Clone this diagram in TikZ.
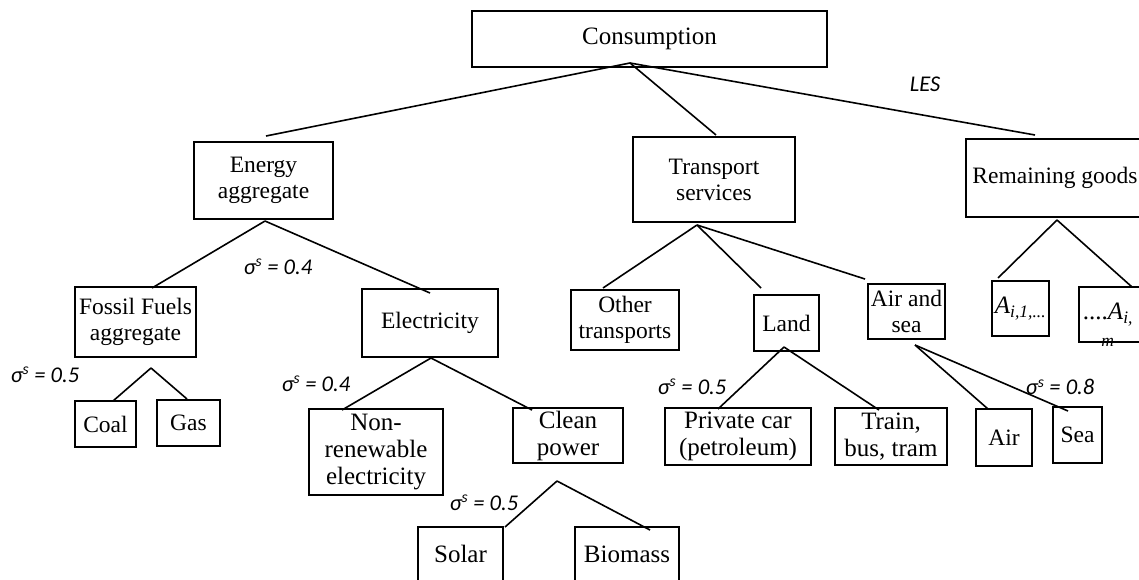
\documentclass[tikz,border=0pt]{standalone}
\usepackage{fontspec}
\setmainfont{Liberation Serif}
\newfontfamily\sigfont{Carlito}
\newcommand\fsA{\fontsize{23.5}{26}\selectfont}
\newcommand\fsB{\fontsize{25}{27}\selectfont}
\begin{document}
\begin{tikzpicture}[x=1pt,y=-1pt,
  box/.style={draw, line width=2.2pt, inner sep=0pt, outer sep=0pt, align=center, font=\fsA},
  bigbox/.style={box, font=\fsB},
  conn/.style={line width=1.6pt},
  sig/.style={font=\sigfont\itshape\fontsize{22.5}{25}\selectfont, inner sep=0pt},
  txt/.style={inner sep=0pt, align=center}]
\useasboundingbox[fill=white] (0,0) rectangle (1139,579);

% boxes
\node[bigbox, minimum width=355, minimum height=56] (cons) at (649.5,39) {Consumption};
\node[box, minimum width=139, minimum height=77] (energy) at (263.5,180.5) {Energy\\aggregate};
\node[box, minimum width=162, minimum height=85] (transport) at (714,179.5) {Transport\\services};
\node[box, minimum width=178, minimum height=78] (remaining) at (1055,178) {Remaining goods};
\node[box, minimum width=121, minimum height=70] (fossil) at (135.5,322) {Fossil Fuels\\aggregate};
\node[box, minimum width=136, minimum height=68] (elec) at (430,323) {Electricity};
\node[box, minimum width=108, minimum height=60] (other) at (625,320) {Other\\transports};
\node[box, minimum width=65, minimum height=56] (land) at (786.5,323) {Land};
\node[box, minimum width=77, minimum height=55] (airsea) at (906.5,311.5) {Air and\\sea};
\node[bigbox, minimum width=57, minimum height=55] (a1) at (1020.5,308.5) {\textit{A}\textsubscript{\textit{i,1,...}}};
\node[box, minimum width=76, minimum height=55] (a2) at (1117,314.5) {};
\node[txt, font=\fsB] (a2t) at (1108,325) {....\textit{A}\textsubscript{\textit{i,}}\\[-4pt]\textsubscript{\textit{m}}};
\node[box, minimum width=61, minimum height=46] (coal) at (105.5,424) {Coal};
\node[box, minimum width=63, minimum height=46] (gas) at (188.5,423) {Gas};
\node[bigbox, minimum width=134, minimum height=86] (nonren) at (376,452) {Non-\\renewable\\electricity};
\node[bigbox, minimum width=110, minimum height=55] (clean) at (568,435.5) {Clean\\power};
\node[bigbox, minimum width=146, minimum height=57] (private) at (738,436.5) {Private car\\(petroleum)};
\node[bigbox, minimum width=112, minimum height=57] (train) at (891,436.5) {Train,\\bus, tram};
\node[box, minimum width=56, minimum height=57] (air) at (1004,437.5) {Air};
\node[box, minimum width=49, minimum height=56] (sea) at (1077.5,435) {Sea};
\node[bigbox, minimum width=85, minimum height=54] (solar) at (460.5,554) {Solar};
\node[bigbox, minimum width=104, minimum height=54] (biomass) at (627,554) {Biomass};

% apex points
\coordinate (pc) at (630,63);
\coordinate (pe) at (265,221);
\coordinate (pf) at (151,368);
\coordinate (pel) at (431,358);
\coordinate (pcl) at (557,481);
\coordinate (pt) at (697,225);
\coordinate (pl) at (784,347);
\coordinate (pa) at (915,345);
\coordinate (pr) at (1057,220);

% connectors
\draw[conn] (pc) -- ([xshift=2.5pt,yshift=6pt]energy.north);
\draw[conn] (pc) -- ([xshift=2pt,yshift=2pt]transport.north);
\draw[conn] (pc) -- ([xshift=-20pt,yshift=4pt]remaining.north);
\draw[conn] (pe) -- ([xshift=16.5pt,yshift=-1pt]fossil.north);
\draw[conn] (pe) -- ([yshift=-4pt]elec.north);
\draw[conn] (pf) -- ([xshift=7.5pt]coal.north);
\draw[conn] (pf) -- ([xshift=-1.5pt,yshift=1pt]gas.north);
\draw[conn] (pel) -- ([xshift=-34pt,yshift=-1pt]nonren.north);
\draw[conn] (pel) -- ([xshift=-36pt,yshift=-2pt]clean.north);
\draw[conn] (pcl) -- ([xshift=2pt]solar.north east);
\draw[conn] (pcl) -- ([xshift=23pt,yshift=-3pt]biomass.north);
\draw[conn] (pt) -- ([xshift=-22pt,yshift=2pt]other.north);
\draw[conn] (pt) -- ([xshift=-25.5pt,yshift=7pt]land.north);
\draw[conn] (pt) -- ([xshift=-3pt,yshift=5pt]airsea.north west);
\draw[conn] (pl) -- ([xshift=-20pt,yshift=-1pt]private.north);
\draw[conn] (pl) -- ([xshift=-12pt,yshift=-2pt]train.north);
\draw[conn] (pa) -- ([xshift=-16pt]air.north);
\draw[conn] (pa) -- ([xshift=-9.5pt,yshift=-4pt]sea.north);
\draw[conn] (pr) -- ([xshift=-22.5pt,yshift=3pt]a1.north);
\draw[conn] (pr) -- ([xshift=15pt]a2.north);

% labels
\node[sig] (les) at (925,84) {LES};
\node[sig] (s1) at (278,267) {σ\textsuperscript{s} = 0.4};
\node[sig] (s2) at (45,375) {σ\textsuperscript{s} = 0.5};
\node[sig] (s3) at (316,384) {σ\textsuperscript{s} = 0.4};
\node[sig] (s4) at (484,503) {σ\textsuperscript{s} = 0.5};
\node[sig] (s5) at (692,387) {σ\textsuperscript{s} = 0.5};
\node[sig] (s6) at (1060,387) {σ\textsuperscript{s} = 0.8};
\end{tikzpicture}
\end{document}
